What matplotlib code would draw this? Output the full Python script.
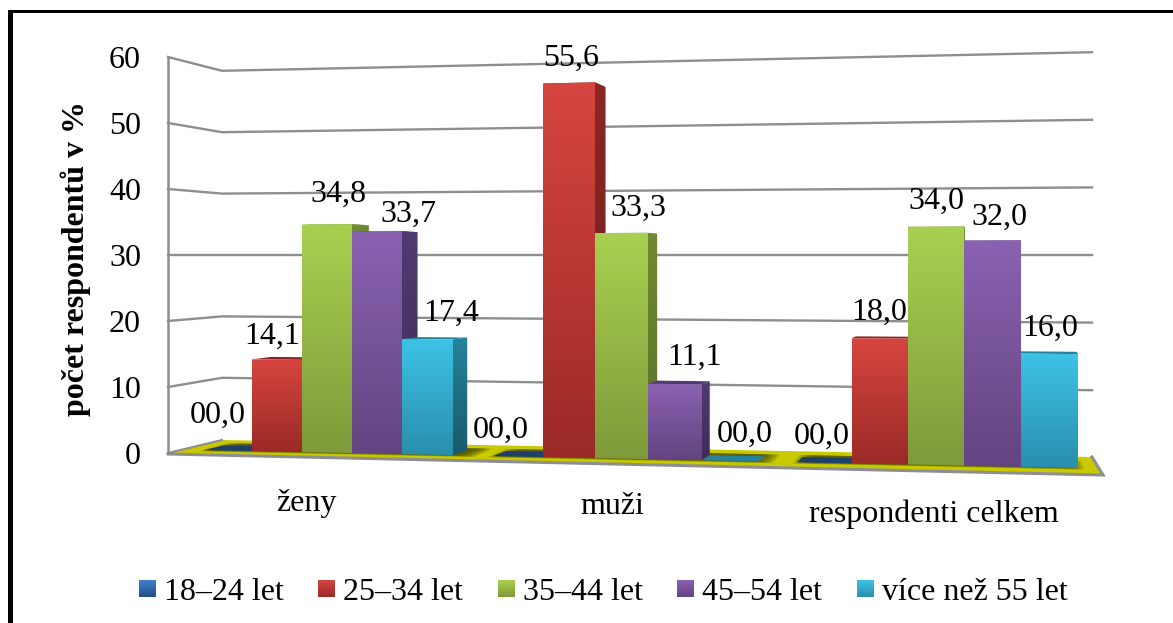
import matplotlib
matplotlib.use("Agg")
import matplotlib.pyplot as plt
from matplotlib.colors import LinearSegmentedColormap
from matplotlib.patches import Polygon, Rectangle
import numpy as np

categories = ["ženy", "muži", "respondenti celkem"]
series_names = ["18–24 let", "25–34 let", "35–44 let", "45–54 let", "více než 55 let"]
age_18_24 = [0.0, 0.0, 0.0]
age_25_34 = [14.1, 55.6, 18.0]
age_35_44 = [34.8, 33.3, 34.0]
age_45_54 = [33.7, 11.1, 32.0]
age_55_up = [17.4, 0.0, 16.0]
y_ticks = [0, 10, 20, 30, 40, 50, 60]

WIDTH, HEIGHT = 1173, 623
SERIF = "Liberation Serif"
FS = 23
GRID = "#8e8e8e"
TEXT_SHIFT = 3

# front colour top, front colour bottom, side top, side bottom
STYLES = [
    ("#3f80cc", "#234f86", "#1d3f6c", "#1d3f6c"),
    ("#d6453f", "#9b2a27", "#8a2725", "#6f1f1d"),
    ("#a8d050", "#7f9a3a", "#6f8a32", "#5a7028"),
    ("#8a62b2", "#634480", "#513a70", "#3f2c58"),
    ("#3dc2e6", "#2a8fad", "#24839b", "#1a5a6c"),
]

# layout of the pseudo 3D scene, in pixels
VANISH = (1000.0, 265.0)
BAR_DEPTH = 0.026
GROUP_EDGES = [
    [204, 252, 302, 352, 402, 453],
    [493, 543, 595, 648, 702, 759],
    [797, 852, 908, 964, 1021, 1078],
]
LABEL_POS = [
    [(218, 412), (272, 333), (338, 191), (408, 211), (451, 310)],
    [(501, 427), (571, 55), (638, 205), (695, 354), (745, 431)],
    [(822, 433), (879, 309), (936, 198), (999, 214), (1050, 325)],
]
CATEGORY_POS = [(306, 500), (612, 503), (934, 511)]
LEGEND_X = [139, 318, 498, 677, 857]


def base_y(x):
    '''Pixel row of the front of a bar foot at column x'''
    return 451 + (x - 252) * 0.0206


def unit_height(x):
    '''Pixels per percent at column x, bars get taller towards the right'''
    return 6.5 + (x - 252) * 0.00075


def to_back(x, y, t=BAR_DEPTH):
    '''Moves a front point towards the vanishing point'''
    return (x + (VANISH[0] - x) * t, y + (VANISH[1] - y) * t)


def wall_y(v, x):
    '''Pixel row of gridline v on the back wall'''
    k = 6.14 + (x - 222) / (1092 - 222) * (6.76 - 6.14)
    return 255 - (v - 30) * k


def gradient_poly(ax, verts, top, bottom, z):
    ''' Fills a polygon with a vertical gradient
        Args: list of corner points, colour at the top and at the bottom'''
    ys = [p[1] for p in verts]
    xs = [p[0] for p in verts]
    cmap = LinearSegmentedColormap.from_list("g", [top, bottom])
    grad = np.linspace(0, 1, 64).reshape(-1, 1)
    im = ax.imshow(grad, cmap=cmap, vmin=0, vmax=1, aspect="auto", interpolation="bilinear",
                   extent=(min(xs), max(xs), max(ys), min(ys)), zorder=z)
    clip = Polygon(verts, closed=True, transform=ax.transData, fc="none", ec="none")
    ax.add_patch(clip)
    im.set_clip_path(clip)


def draw_bar(ax, x0, x1, value, style, z):
    ''' Draws top, side and front face of one bar'''
    top_c, bot_c, side_t, side_b = style
    f0 = (x0, base_y(x0))
    f1 = (x1, base_y(x1))
    t0 = (x0, base_y(x0) - value * unit_height(x0))
    t1 = (x1, base_y(x1) - value * unit_height(x1))
    ax.add_patch(Polygon([t0, t1, to_back(*t1), to_back(*t0)], closed=True, fc=side_t, ec="none", zorder=z))
    if value > 0:
        side = [t1, to_back(*t1), to_back(*f1), f1]
        gradient_poly(ax, side, side_t, side_b, z + 0.1)
        gradient_poly(ax, [f0, f1, t1, t0], top_c, bot_c, z + 0.2)


def draw_floor(ax):
    ''' Yellow floor with soft dark shadows under each group'''
    corners = [(168, 453), (222, 440), (1092, 457), (1103, 474)]
    floor = Polygon(corners, closed=True, fc="#c9c900", ec="none", zorder=2)
    ax.add_patch(floor)
    for left, right in [(198, 474), (487, 772), (792, 1084)]:
        for k in range(7):
            x0, x1 = left + k * 2.5, right - k * 2.5
            pts = [(x0, base_y(x0) + 1.5 - k * 0.25), (x1, base_y(x1) + 1.5 - k * 0.25),
                   to_back(x1, base_y(x1), 0.036), to_back(x0, base_y(x0), 0.036)]
            shade = Polygon(pts, closed=True, fc="#38380a", ec="none", alpha=0.17, zorder=2.1)
            ax.add_patch(shade)
            shade.set_clip_path(floor)
    ax.plot([168, 1103, 1092], [454, 475, 457], color=GRID, lw=2.2, zorder=2.2, solid_joinstyle="miter")
    ax.plot([168, 222], [453, 440], color=GRID, lw=1.5, zorder=2.2)


fig = plt.figure(figsize=(WIDTH / 100, HEIGHT / 100), dpi=100)
ax = fig.add_axes([0, 0, 1, 1])
ax.set_xlim(0, WIDTH)
ax.set_ylim(HEIGHT, 0)
ax.axis("off")

# page frame, only the top and left edges are in view
ax.add_patch(Rectangle((8, 10), WIDTH, 3.4, fc="black", ec="none", zorder=1))
ax.add_patch(Rectangle((8, 10), 5.2, HEIGHT, fc="black", ec="none", zorder=1))

# walls
ax.plot([168, 168], [wall_y(60, 222) - 14, 453], color=GRID, lw=1.8, zorder=1.5)
for v in y_ticks:
    left_y = 453 - v * 6.6
    ax.text(141, left_y + TEXT_SHIFT, str(v), family=SERIF, fontsize=FS, ha="right", va="center", zorder=6)
    if v == 0:
        continue
    ax.plot([168, 222, 1092], [left_y, wall_y(v, 222), wall_y(v, 1092)], color=GRID, lw=1.7, zorder=1.5,
            solid_joinstyle="miter")

draw_floor(ax)

series = [age_18_24, age_25_34, age_35_44, age_45_54, age_55_up]
z = 3.0
for g in range(len(categories)):
    edges = GROUP_EDGES[g]
    for s, values in enumerate(series):
        draw_bar(ax, edges[s], edges[s + 1], values[g], STYLES[s], z)
        z += 0.3
        label = "{0:04.1f}".format(values[g]).replace(".", ",")
        lx, ly = LABEL_POS[g][s]
        ax.text(lx, ly + TEXT_SHIFT, label, family=SERIF, fontsize=FS, ha="center", va="center", zorder=20)

for name, (cx, cy) in zip(categories, CATEGORY_POS):
    ax.text(cx, cy + TEXT_SHIFT, name, family=SERIF, fontsize=FS, ha="center", va="center", zorder=20)

ax.text(76, 258, "počet respondentů v %", family=SERIF, fontsize=FS, fontweight="bold", rotation=90,
        ha="center", va="center", zorder=20)

# legend row
for name, lx, style in zip(series_names, LEGEND_X, STYLES):
    square = [(lx, 580), (lx + 17, 580), (lx + 17, 597), (lx, 597)]
    gradient_poly(ax, square, style[0], style[1], 20)
    ax.text(lx + 25, 589 + TEXT_SHIFT, name, family=SERIF, fontsize=FS, ha="left", va="center", zorder=20)

fig.savefig("out.png", dpi=100)
